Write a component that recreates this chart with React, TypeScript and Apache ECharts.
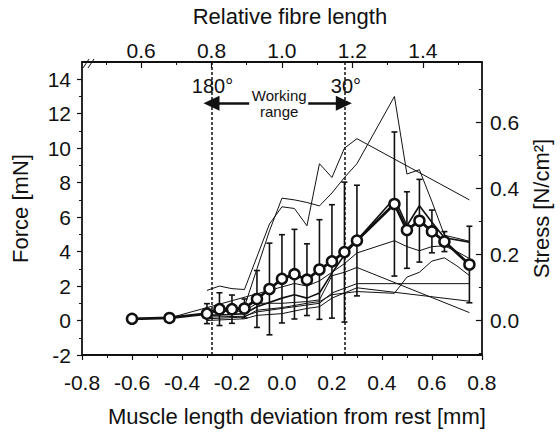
import React, { useEffect, useRef } from "react";
import * as echarts from "echarts";

// ---- data ----
const devX = [-0.6, -0.45, -0.3, -0.25, -0.2, -0.15, -0.1, -0.05, 0, 0.05, 0.1, 0.15, 0.2, 0.25, 0.3, 0.45, 0.5, 0.55, 0.6, 0.65, 0.75];
const meanForce = [0.1, 0.15, 0.4, 0.66, 0.66, 0.7, 1.25, 1.83, 2.42, 2.69, 2.37, 2.96, 3.43, 3.97, 4.64, 6.76, 5.25, 5.79, 5.17, 4.58, 3.25];
const sdForce = [0, 0, 0.58, 0.95, 0.82, 0.55, 1.65, 2.66, 2.56, 2.6, 2.08, 2.89, 3.29, 4.06, 3.21, 4.18, 2.22, 2.4, 1.24, 0.58, 2.22];

const lineP = [[-0.3, 1.75], [-0.25, 2.0], [-0.2, 1.85], [-0.15, 1.8], [-0.05, 5.6], [0, 6.6], [0.05, 6.5], [0.1, 5.5], [0.15, 9.1], [0.2, 8.3], [0.25, 10.0], [0.3, 10.55], [0.75, 7.0]];
const lineR = [[-0.3, 0.5], [-0.2, 0.6], [-0.15, 0.8], [-0.1, 3.0], [-0.05, 5.2], [0, 7.1], [0.05, 7.0], [0.1, 6.85], [0.15, 6.65], [0.2, 7.4], [0.25, 8.3], [0.3, 9.1], [0.45, 13.0], [0.5, 8.5], [0.55, 8.75], [0.6, 6.9], [0.65, 4.95], [0.75, 4.6]];
const lineS = [[-0.3, 0.3], [-0.2, 0.35], [-0.15, 0.4], [-0.1, 0.8], [0, 1.3], [0.05, 1.5], [0.1, 1.3], [0.15, 1.6], [0.2, 2.75], [0.25, 3.8], [0.3, 4.66], [0.45, 7.1], [0.5, 5.5], [0.55, 6.66], [0.6, 5.7], [0.65, 4.8], [0.75, 4.55]];
const lineW = [[-0.6, 0.1], [-0.45, 0.15], [0.05, 2.15], [0.1, 2.0], [0.15, 2.3], [0.25, 3.3], [0.3, 3.92], [0.45, 4.63], [0.5, 4.29], [0.55, 4.05], [0.6, 4.29], [0.65, 4.33], [0.7, 4.0], [0.75, 3.6]];
const lineV = [[-0.3, 0.5], [-0.15, 0.55], [-0.1, 1.0], [0, 1.0], [0.1, 1.1], [0.15, 1.2], [0.2, 2.6], [0.25, 2.8], [0.3, 3.08], [0.75, 0.46]];
const lineX = [[-0.3, 0.2], [-0.15, 0.25], [-0.1, 0.5], [0, 0.7], [0.1, 0.9], [0.15, 1.0], [0.2, 1.6], [0.3, 2.14], [0.75, 2.14]];
const lineY = [[-0.3, 0.0], [-0.15, 0.1], [-0.1, 0.3], [0, 0.4], [0.1, 0.7], [0.15, 0.8], [0.2, 1.3], [0.3, 1.9], [0.75, 1.12]];
const lineU = [[-0.3, 0.1], [-0.15, 0.2], [-0.1, 0.6], [0, 0.75], [0.1, 1.0], [0.15, 1.1], [0.2, 1.5], [0.3, 1.68], [0.45, 1.58], [0.5, 2.52], [0.55, 2.8], [0.6, 3.45], [0.65, 3.64], [0.7, 3.17], [0.75, 2.61]];
const thinLines = [lineP, lineR, lineW, lineV, lineX, lineY, lineU];

const workingRange = [-0.282, 0.2476];
const angleLabels = ["180°", "30°"];

const bottomTicks = [-0.8, 0.8];
const forceLabels = [-2, 0, 2, 4, 6, 8, 10, 12, 14];
const forceMinor = [-1, 1, 3, 5, 7, 9, 11, 13];
const forceRange = [-2, 15];
const relRange = [0.4323, 1.5677];
const relLabels = [0.6, 0.8, 1.0, 1.2, 1.4];
const relMinor = [0.5, 0.7, 0.9, 1.1, 1.3, 1.5];
const stressRange = [-0.1045, 0.784];
const stressLabels = [0.0, 0.2, 0.4, 0.6];
const stressMinor = [-0.1, 0.1, 0.3, 0.5, 0.7];

const FONT = "Liberation Sans";
const INK = "#111";

export default function App() {
  const ref = useRef<HTMLDivElement>(null);
  useEffect(() => {
    if (!ref.current) return;
    const chart = echarts.init(ref.current, undefined, { renderer: "svg" });
    const labelStyle = { fontFamily: FONT, fontSize: 21, color: INK };
    const nameStyle = { fontFamily: FONT, fontSize: 22, color: INK };
    const axisLine = { show: true, onZero: false, lineStyle: { color: INK, width: 1.8 } };
    const noLine = { show: false, onZero: false };

    const errData = devX
      .map((x, i) => [x, meanForce[i] - sdForce[i], meanForce[i] + sdForce[i]])
      .filter((d, i) => sdForce[i] > 0);

    const option: any = {
      animation: false,
      backgroundColor: "#fff",
      grid: { left: 82, top: 60.4, width: 413.6, height: 303.6, containLabel: false },
      xAxis: [
        {
          type: "value", position: "bottom", min: bottomTicks[0], max: bottomTicks[1], interval: 0.2,
          axisLine, splitLine: { show: false },
          axisTick: { show: true, inside: false, length: 5, lineStyle: { color: INK, width: 1.2 } },
          minorTick: { show: true, splitNumber: 2, length: 3, lineStyle: { color: INK, width: 1 } },
          axisLabel: { ...labelStyle, margin: 17, formatter: (v: number) => v.toFixed(1) },
          name: "Muscle length deviation from rest [mm]", nameLocation: "middle", nameGap: 50,
          nameTextStyle: { ...nameStyle, padding: [0, 0, 0, 30] },
        },
        {
          type: "value", position: "top", min: relRange[0], max: relRange[1],
          axisLine, splitLine: { show: false },
          axisTick: { show: true, inside: true, length: 6, customValues: relLabels, lineStyle: { color: INK, width: 1.2 } },
          axisLabel: { ...labelStyle, margin: 1, customValues: relLabels, formatter: (v: number) => v.toFixed(1) },
          name: "Relative fibre length", nameLocation: "middle", nameGap: 35,
          nameTextStyle: { ...nameStyle, padding: [0, 0, 0, 16] },
        },
        {
          type: "value", position: "top", min: relRange[0], max: relRange[1],
          axisLine: noLine, splitLine: { show: false },
          axisTick: { show: true, inside: true, length: 3, customValues: relMinor, lineStyle: { color: INK, width: 1 } },
          axisLabel: { show: false },
        },
      ],
      yAxis: [
        {
          type: "value", position: "left", min: forceRange[0], max: forceRange[1],
          axisLine, splitLine: { show: false },
          axisTick: { show: true, inside: false, length: 5, customValues: forceLabels, lineStyle: { color: INK, width: 1.2 } },
          axisLabel: { ...labelStyle, margin: 11, customValues: forceLabels },
          name: "Force [mN]", nameLocation: "middle", nameGap: 51, nameTextStyle: nameStyle,
        },
        {
          type: "value", position: "left", min: forceRange[0], max: forceRange[1],
          axisLine: noLine, splitLine: { show: false },
          axisTick: { show: true, inside: false, length: 3, customValues: forceMinor, lineStyle: { color: INK, width: 1 } },
          axisLabel: { show: false },
        },
        {
          type: "value", position: "right", min: stressRange[0], max: stressRange[1],
          axisLine, splitLine: { show: false },
          axisTick: { show: true, inside: true, length: 6, customValues: stressLabels, lineStyle: { color: INK, width: 1.2 } },
          axisLabel: { ...labelStyle, margin: 8, customValues: stressLabels, formatter: (v: number) => v.toFixed(1) },
          name: "Stress [N/cm²]", nameLocation: "middle", nameGap: 47, nameTextStyle: nameStyle,
        },
        {
          type: "value", position: "right", min: stressRange[0], max: stressRange[1],
          axisLine: noLine, splitLine: { show: false },
          axisTick: { show: true, inside: true, length: 3, customValues: stressMinor, lineStyle: { color: INK, width: 1 } },
          axisLabel: { show: false },
        },
      ],
      graphic: [
        { type: "line", shape: { x1: 83, y1: 68, x2: 89, y2: 59 }, style: { stroke: INK, lineWidth: 1 }, z: 100 },
        { type: "line", shape: { x1: 88, y1: 68, x2: 94, y2: 59 }, style: { stroke: INK, lineWidth: 1 }, z: 100 },
      ],
      series: [
        ...thinLines.map((d) => ({
          type: "line", data: d, xAxisIndex: 0, yAxisIndex: 0, symbol: "none", z: 2,
          lineStyle: { color: INK, width: 1 }, silent: true,
        })),
        {
          type: "line", data: lineS, xAxisIndex: 0, yAxisIndex: 0, symbol: "none", z: 3,
          lineStyle: { color: INK, width: 1.6 }, silent: true,
        },
        {
          type: "custom", xAxisIndex: 0, yAxisIndex: 0, z: 4, silent: true,
          data: errData,
          encode: { x: 0, y: [1, 2] },
          renderItem: (params: any, api: any) => {
            const x = api.value(0);
            const top = api.coord([x, api.value(2)]);
            const bot = api.coord([x, api.value(1)]);
            const w = 3;
            const st = { stroke: INK, lineWidth: 1.6 };
            return {
              type: "group",
              children: [
                { type: "line", shape: { x1: top[0], y1: top[1], x2: bot[0], y2: bot[1] }, style: st },
                { type: "line", shape: { x1: top[0] - w, y1: top[1], x2: top[0] + w, y2: top[1] }, style: st },
                { type: "line", shape: { x1: bot[0] - w, y1: bot[1], x2: bot[0] + w, y2: bot[1] }, style: st },
              ],
            };
          },
        },
        {
          type: "line", xAxisIndex: 0, yAxisIndex: 0, z: 5, silent: true,
          data: devX.map((x, i) => [x, meanForce[i]]),
          symbol: "circle", symbolSize: 10,
          itemStyle: { color: "#fff", borderColor: INK, borderWidth: 2.5 },
          lineStyle: { color: INK, width: 2.8 },
          markLine: {
            silent: true, symbol: ["none", "none"], animation: false,
            label: { show: false },
            lineStyle: { color: INK, type: [3, 2], width: 1.5 },
            data: [
              { xAxis: workingRange[0] },
              { xAxis: workingRange[1] },
              [
                { coord: [-0.131, 12.6], symbol: "none" },
                { coord: [workingRange[0], 12.6], symbol: "triangle", symbolSize: [15, 16], lineStyle: { type: "solid", width: 2.5 } },
              ],
              [
                { coord: [0.105, 12.6], symbol: "none" },
                { coord: [workingRange[1], 12.6], symbol: "triangle", symbolSize: [15, 16], lineStyle: { type: "solid", width: 2.5 } },
              ],
            ],
          },
          markPoint: {
            silent: true, symbol: "rect", symbolSize: 1,
            itemStyle: { color: "rgba(0,0,0,0)" },
            data: [
              { coord: [-0.278, 13.62], label: { show: true, position: "inside", formatter: angleLabels[0], fontFamily: FONT, fontSize: 20, color: INK } },
              { coord: [0.256, 13.62], label: { show: true, position: "inside", formatter: angleLabels[1], fontFamily: FONT, fontSize: 20, color: INK } },
              { coord: [-0.011, 12.6], label: { show: true, position: "inside", formatter: "Working\nrange", fontFamily: FONT, fontSize: 15, lineHeight: 16, color: INK, align: "center" } },
            ],
          },
        },
      ],
    };
    chart.setOption(option);
    return () => chart.dispose();
  }, []);
  return (
    <div
      ref={ref}
      style={{ position: "absolute", left: 0, top: 0, width: 560, height: 432, background: "#fff" }}
    />
  );
}
